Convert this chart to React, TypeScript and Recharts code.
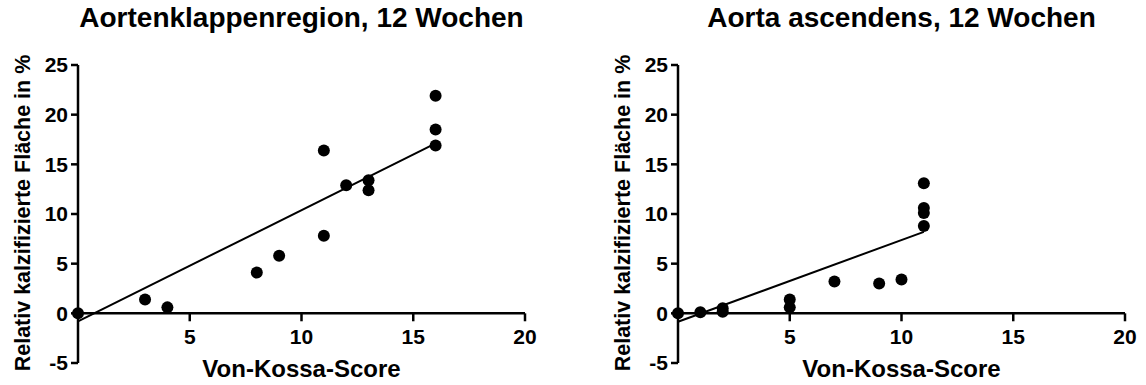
import React from 'react';
import {
  ScatterChart,
  Scatter,
  XAxis,
  YAxis,
  ReferenceLine,
} from 'recharts';

// values
const leftScores = [0, 3, 4, 8, 9, 11, 11, 12, 13, 13, 16, 16, 16];
const leftAreas = [0, 1.4, 0.6, 4.1, 5.8, 16.4, 7.8, 12.9, 13.4, 12.4, 21.9, 18.5, 16.9];
const leftFit = [
  { x: 0, y: -0.8 },
  { x: 16, y: 17.1 },
];

const rightScores = [0, 1, 2, 2, 5, 5, 7, 9, 10, 11, 11, 11, 11];
const rightAreas = [0, 0.1, 0.5, 0.15, 1.4, 0.6, 3.2, 3.0, 3.4, 13.1, 10.6, 10.1, 8.8];
const rightFit = [
  { x: 0, y: -0.85 },
  { x: 11, y: 8.2 },
];

const xTicks = [5, 10, 15, 20];
const yTicks = [-5, 0, 5, 10, 15, 20, 25];

const FONT = '"Liberation Sans", Arial, Helvetica, sans-serif';
const CHART_W = 573;
const CHART_H = 385;

function Dot(props: any) {
  const { cx, cy } = props;
  if (cx == null || cy == null) return <g />;
  return <circle cx={cx} cy={cy} r={6} fill="#000" />;
}

interface PanelProps {
  title: string;
  scores: number[];
  areas: number[];
  fit: { x: number; y: number }[];
  axisWidth: number;
  rightMargin: number;
  left: number;
}

function Panel({ title, scores, areas, fit, axisWidth, rightMargin, left }: PanelProps) {
  const data = scores.map((s, i) => ({ x: s, y: areas[i] }));
  const plotCenter = left + axisWidth + (CHART_W - axisWidth - rightMargin) / 2;

  return (
    <>
      <div
        style={{
          position: 'absolute',
          left: plotCenter - 300,
          width: 600,
          top: 4,
          textAlign: 'center',
          fontSize: '28px',
          fontWeight: 700,
          lineHeight: 1,
          whiteSpace: 'nowrap',
        }}
      >
        {title}
      </div>
      <div
        style={{
          position: 'absolute',
          left: left + axisWidth - 55 - 200,
          width: 400,
          top: 213 - 11,
          height: 22,
          textAlign: 'center',
          fontSize: '21.5px',
          fontWeight: 700,
          lineHeight: '22px',
          whiteSpace: 'nowrap',
          transform: 'rotate(-90deg)',
        }}
      >
        Relativ kalzifizierte Fläche in %
      </div>
      <div
        style={{
          position: 'absolute',
          left: plotCenter - 200,
          width: 400,
          top: 357,
          textAlign: 'center',
          fontSize: '24px',
          fontWeight: 700,
          lineHeight: 1,
        }}
      >
        Von-Kossa-Score
      </div>
      <div style={{ position: 'absolute', left, top: 0 }}>
        <ScatterChart
          width={CHART_W}
          height={CHART_H}
          margin={{ top: 65, right: rightMargin, bottom: 22, left: 0 }}
        >
          <XAxis type="number" dataKey="x" domain={[0, 20]} hide />
          <YAxis
            type="number"
            dataKey="y"
            domain={[-5, 25]}
            ticks={yTicks}
            interval={0}
            width={axisWidth}
            axisLine={{ stroke: '#000', strokeWidth: 2.5 }}
            tickLine={{ stroke: '#000', strokeWidth: 2.5 }}
            tickSize={7}
            tickMargin={3}
            tick={{ fill: '#000', fontSize: 21, fontWeight: 700, fontFamily: FONT }}
          />
          {/* x axis sits on y = 0 */}
          <ReferenceLine y={0} stroke="#000" strokeWidth={2.5} />
          {xTicks.map((t) => (
            <ReferenceLine
              key={t}
              segment={[
                { x: t, y: 0 },
                { x: t, y: -0.8 },
              ]}
              stroke="#000"
              strokeWidth={2.5}
              label={{
                value: String(t),
                position: 'bottom',
                offset: 8,
                fill: '#000',
                fontSize: 21,
                fontWeight: 700,
                fontFamily: FONT,
              }}
            />
          ))}
          <ReferenceLine segment={fit} stroke="#000" strokeWidth={2} />
          <Scatter data={data} fill="#000" isAnimationActive={false} shape={<Dot />} />
        </ScatterChart>
      </div>
    </>
  );
}

export default function App() {
  return (
    <div
      style={{
        position: 'absolute',
        left: 0,
        top: 0,
        width: 1146,
        height: 385,
        background: '#fff',
        fontFamily: FONT,
        color: '#000',
        overflow: 'hidden',
      }}
    >
      <Panel
        title="Aortenklappenregion, 12 Wochen"
        scores={leftScores}
        areas={leftAreas}
        fit={leftFit}
        axisWidth={78}
        rightMargin={48}
        left={0}
      />
      <Panel
        title="Aorta ascendens, 12 Wochen"
        scores={rightScores}
        areas={rightAreas}
        fit={rightFit}
        axisWidth={105}
        rightMargin={21}
        left={573}
      />
    </div>
  );
}
